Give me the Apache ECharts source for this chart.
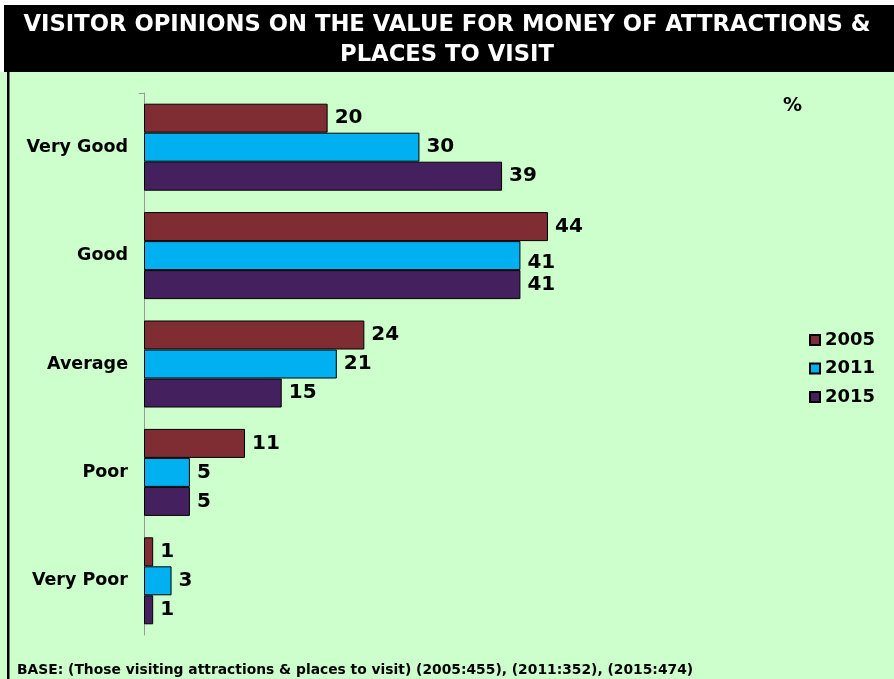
<!DOCTYPE html>
<html>
<head>
<meta charset="utf-8">
<style>
  html, body { margin: 0; padding: 0; background: #ffffff; }
  #chart { width: 894px; height: 679px; }
</style>
<script src="https://cdn.jsdelivr.net/npm/echarts@6/dist/echarts.min.js"></script>
</head>
<body>
<div id="chart"></div>
<script>
// Ratings, top to bottom
const categories = ['Very Good', 'Good', 'Average', 'Poor', 'Very Poor'];
const years = ['2005', '2011', '2015'];
const values2005 = [20, 44, 24, 11, 1];
const values2011 = [30, 41, 21, 5, 3];
const values2015 = [39, 41, 15, 5, 1];

const titleLines = ['VISITOR OPINIONS ON THE VALUE FOR MONEY OF ATTRACTIONS &', 'PLACES TO VISIT'];
const baseNote = 'BASE: (Those visiting attractions & places to visit) (2005:455), (2011:352), (2015:474)';

const colors = ['#7f2d32', '#00b0f0', '#45205e'];
const font = '"DejaVu Sans", Verdana, sans-serif';

const seriesValues = [values2005, values2011, values2015];

// the middle "Good" label sits a little lower so it clears the 2005 label
function barData(values, seriesIndex) {
  return values.map((v, i) => {
    if (seriesIndex === 1 && i === 1) {
      return { value: v, label: { offset: [0, 7] } };
    }
    return v;
  });
}

const chart = echarts.init(document.getElementById('chart'), null, { renderer: 'canvas' });

chart.setOption({
  backgroundColor: '#ccffcc',
  animation: false,
  textStyle: { fontFamily: font },
  grid: { left: 144, top: 93, right: 15.5, bottom: 44, containLabel: false },
  xAxis: {
    type: 'value', min: 0, max: 80,
    show: false
  },
  yAxis: {
    type: 'category',
    data: categories,
    inverse: true,
    axisLine: { show: true, lineStyle: { color: '#999999', width: 1 } },
    axisTick: { show: false },
    axisLabel: {
      margin: 16,
      color: '#000000',
      fontFamily: font,
      fontWeight: 'bold',
      fontSize: 17.5
    }
  },
  legend: {
    orient: 'vertical',
    left: 804,
    top: 326,
    itemWidth: 10,
    itemHeight: 10,
    itemGap: 10.5,
    icon: 'rect',
    data: years,
    textStyle: { fontFamily: font, fontWeight: 'bold', fontSize: 18, color: '#000000' }
  },
  series: years.map((y, i) => ({
    name: y,
    type: 'bar',
    data: barData(seriesValues[i], i),
    barWidth: 29,
    barGap: '0%',
    itemStyle: { color: colors[i], borderColor: '#000000', borderWidth: 1 },
    label: {
      show: true,
      position: 'right',
      distance: 7,
      color: '#000000',
      fontFamily: font,
      fontWeight: 'bold',
      fontSize: 20
    }
  })),
  graphic: [
    { type: 'rect', left: 0, top: 0, shape: { width: 894, height: 5 }, style: { fill: '#ffffff' }, silent: true },
    { type: 'rect', left: 0, top: 0, shape: { width: 4, height: 72 }, style: { fill: '#ffffff' }, silent: true },
    { type: 'rect', left: 4, top: 5, shape: { width: 890, height: 67 }, style: { fill: '#000000' }, silent: true },
    {
      type: 'text', left: 'center', top: 10,
      style: {
        text: titleLines.join('\n'),
        fill: '#ffffff',
        font: 'bold 22.7px "DejaVu Sans", Verdana, sans-serif',
        textAlign: 'center',
        lineHeight: 30
      }
    },
    { type: 'rect', left: 7, top: 72, shape: { width: 2.5, height: 607 }, style: { fill: '#000000' }, silent: true },
    { type: 'line', shape: { x1: 139, y1: 93.5, x2: 144, y2: 93.5 }, style: { stroke: '#999999', lineWidth: 1 }, silent: true },
    {
      type: 'text', left: 783, top: 97,
      style: { text: '%', fill: '#000000', font: 'bold 19px "DejaVu Sans", sans-serif' }
    },
    {
      type: 'text', left: 17, top: 663,
      style: { text: baseNote, fill: '#000000', font: 'bold 13.85px "DejaVu Sans", sans-serif' }
    }
  ]
});
</script>
</body>
</html>
